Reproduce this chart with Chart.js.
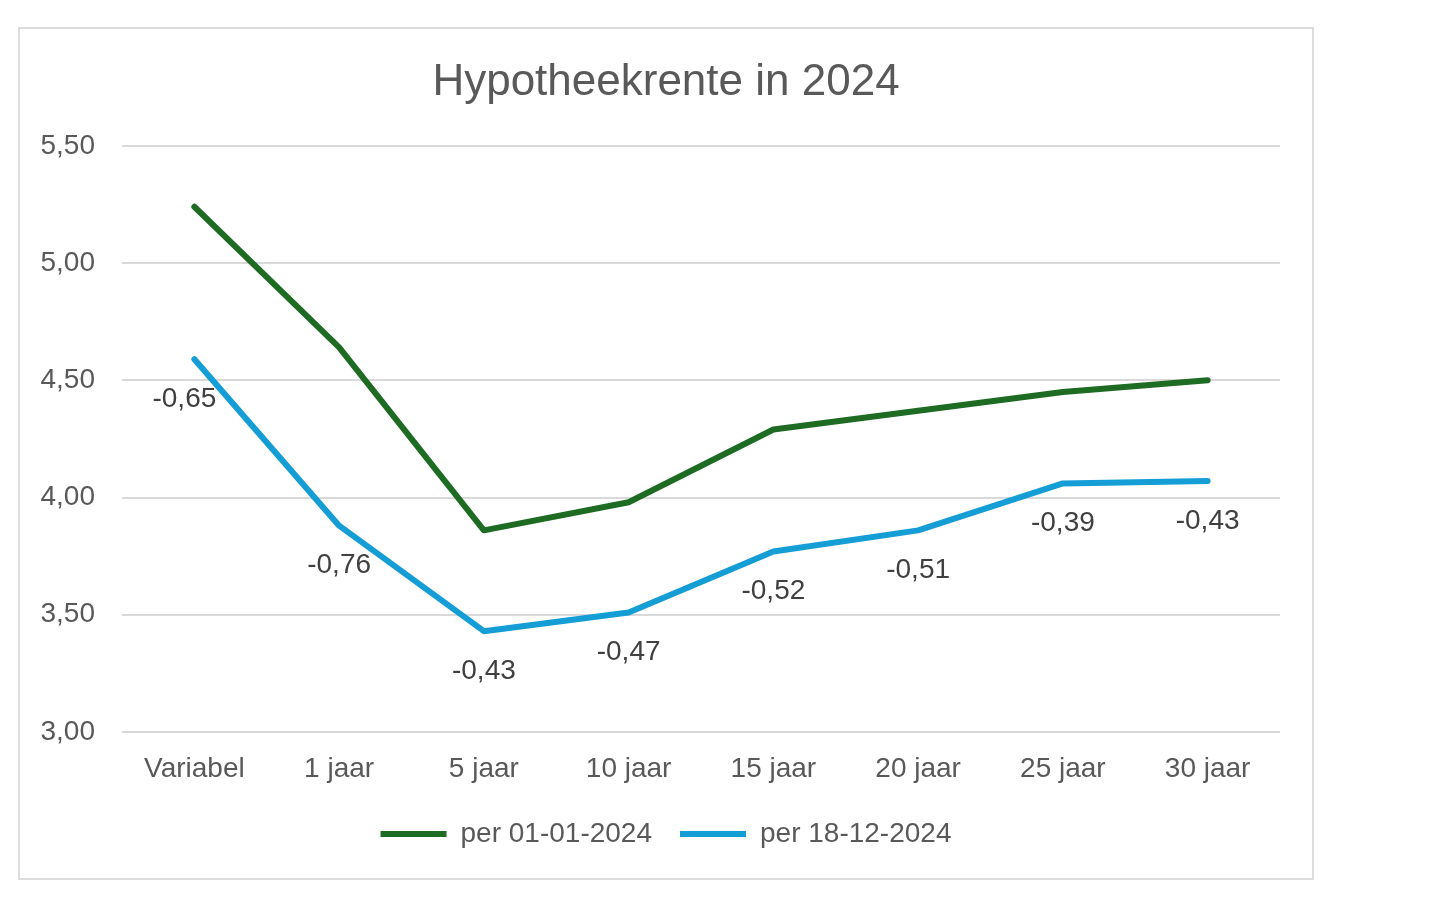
<!DOCTYPE html>
<html>
<head>
<meta charset="utf-8">
<script src="https://cdn.jsdelivr.net/npm/chart.js@4.4.1/dist/chart.umd.min.js"></script>
<style>
  html, body { margin: 0; padding: 0; background: #fff; }
  body { width: 1440px; height: 905px; position: relative; overflow: hidden; }
  .frame {
    position: absolute; left: 18px; top: 27px; width: 1296px; height: 853px;
    box-sizing: border-box; border: 2px solid #dcdcdc; background: #fff;
  }
  .frame canvas { display: block; }
</style>
</head>
<body>
<div class="frame"><canvas id="chartRente" width="1292" height="849"></canvas></div>
<script>
// Hypotheekrente per looptijd, begin en eind 2024
const CATEGORIES = ["Variabel", "1 jaar", "5 jaar", "10 jaar", "15 jaar", "20 jaar", "25 jaar", "30 jaar"];
const RATE_JAN = [5.24, 4.64, 3.86, 3.98, 4.29, 4.37, 4.45, 4.50];
const RATE_DEC = [4.59, 3.88, 3.43, 3.51, 3.77, 3.86, 4.06, 4.07];
const DELTA = [-0.65, -0.76, -0.43, -0.47, -0.52, -0.51, -0.39, -0.43];
const SERIES_NAMES = ["per 01-01-2024", "per 18-12-2024"];

const FONT = "'Liberation Sans', Arial, sans-serif";
const TEXT = "#595959";
const GRID = "#d9d9d9";
const GREEN = "#1e6b24";
const BLUE = "#159dd6";

function fmtNL(v, d) {
  return Number(v).toFixed(d).replace(".", ",");
}

// verschil-labels onder de blauwe lijn
const deltaLabels = {
  id: "deltaLabels",
  afterDatasetsDraw(chart) {
    const meta = chart.getDatasetMeta(1);
    const ctx = chart.ctx;
    ctx.save();
    ctx.font = "28px " + FONT;
    ctx.fillStyle = "#404040";
    ctx.textAlign = "center";
    ctx.textBaseline = "middle";
    meta.data.forEach((pt, i) => {
      const dx = i === 0 ? -10 : 0;
      ctx.fillText(fmtNL(DELTA[i], 2), pt.x + dx, pt.y + 40);
    });
    ctx.restore();
  },
};

const ctx = document.getElementById("chartRente").getContext("2d");
new Chart(ctx, {
  type: "line",
  data: {
    labels: CATEGORIES,
    datasets: [
      {
        label: SERIES_NAMES[0],
        data: RATE_JAN,
        borderColor: GREEN,
        backgroundColor: GREEN,
        borderWidth: 6,
        borderCapStyle: "round",
        borderJoinStyle: "round",
        pointRadius: 0,
        tension: 0,
      },
      {
        label: SERIES_NAMES[1],
        data: RATE_DEC,
        borderColor: BLUE,
        backgroundColor: BLUE,
        borderWidth: 6,
        borderCapStyle: "round",
        borderJoinStyle: "round",
        pointRadius: 0,
        tension: 0,
      },
    ],
  },
  options: {
    responsive: false,
    animation: false,
    devicePixelRatio: 1,
    layout: { padding: { left: 0, right: 0, top: 0, bottom: 20 } },
    plugins: {
      title: {
        display: true,
        text: "Hypotheekrente in 2024",
        color: TEXT,
        font: { family: FONT, size: 44, weight: "normal" },
        padding: { top: 27, bottom: 37 },
      },
      legend: {
        position: "bottom",
        labels: {
          usePointStyle: true,
          pointStyle: "line",
          pointStyleWidth: 66,
          color: TEXT,
          font: { family: FONT, size: 28 },
          padding: 28,
        },
      },
      tooltip: { enabled: false },
    },
    scales: {
      x: {
        offset: true,
        grid: { display: false, drawTicks: false },
        border: { display: false },
        ticks: { color: TEXT, font: { family: FONT, size: 28 }, padding: 20 },
        afterFit: (s) => { s.height = 60; },
      },
      y: {
        min: 3,
        max: 5.5,
        grid: { color: GRID, lineWidth: 2, drawTicks: false },
        border: { display: false },
        ticks: {
          stepSize: 0.5,
          color: TEXT,
          font: { family: FONT, size: 28 },
          padding: 27,
          callback: (v) => fmtNL(v, 2),
        },
        afterFit: (s) => { s.width = 102; },
      },
      // lege ruimte rechts, zodat de titel over de hele breedte centreert
      yRight: {
        position: "right",
        grid: { display: false, drawTicks: false },
        border: { display: false },
        ticks: { display: false },
        afterFit: (s) => { s.width = 32; },
      },
    },
  },
  plugins: [deltaLabels],
});
</script>
</body>
</html>
